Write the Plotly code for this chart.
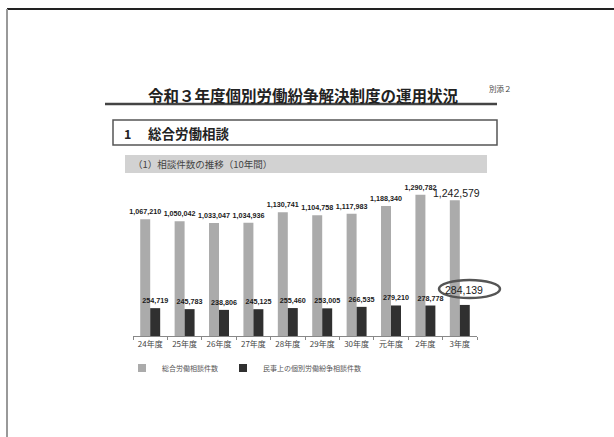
import plotly.graph_objects as go

# ---- data ----
categories = ["24年度", "25年度", "26年度", "27年度", "28年度",
              "29年度", "30年度", "元年度", "2年度", "3年度"]
total_consult = [1067210, 1050042, 1033047, 1034936, 1130741,
                 1104758, 1117983, 1188340, 1290782, 1242579]
civil_disputes = [254719, 245783, 238806, 245125, 255460,
                  253005, 266535, 279210, 278778, 284139]
series_names = ["総合労働相談件数", "民事上の個別労働紛争相談件数"]
series_colors = ["#ababab", "#303030"]

W, H = 614, 437
def px(x):
    return x / W
def py(y):
    return 1 - y / H

CJK = "Noto Sans CJK JP"
NUM = "Liberation Sans"

n = len(categories)
light_text = [f"<b>{v:,}</b>" for v in total_consult[:-1]] + [""]
dark_text = [f"<b>{v:,}</b>" for v in civil_disputes[:-1]] + [""]

fig = go.Figure()
fig.add_trace(go.Bar(
    x=categories, y=total_consult, name=series_names[0], showlegend=False,
    marker=dict(color=series_colors[0], line=dict(width=0)),
    text=light_text, textposition="outside", constraintext="none",
    outsidetextfont=dict(family=NUM, size=7.2, color="#1a1a1a"),
    cliponaxis=False,
))
fig.add_trace(go.Bar(
    x=categories, y=civil_disputes, name=series_names[1], showlegend=False,
    marker=dict(color=series_colors[1], line=dict(width=0)),
    text=dark_text, textposition="outside", constraintext="none",
    outsidetextfont=dict(family=NUM, size=7.2, color="#1a1a1a"),
    cliponaxis=False,
))
# legend entries with small square swatches
for name, col in zip(series_names, series_colors):
    fig.add_trace(go.Scatter(x=[None], y=[None], mode="markers", name=name,
                             marker=dict(symbol="square", size=8, color=col)))

# latest year values shown larger
fig.add_annotation(x=categories[-1], y=total_consult[-1], xref="x", yref="y",
                   text=f"{total_consult[-1]:,}", showarrow=False,
                   xshift=-3, yshift=7,
                   font=dict(family=NUM, size=10.5, color="#1a1a1a"))
fig.add_annotation(x=categories[-1], y=civil_disputes[-1], xref="x", yref="y",
                   text=f"{civil_disputes[-1]:,}", showarrow=False,
                   xshift=4, yshift=15,
                   font=dict(family=NUM, size=10.5, color="#1a1a1a"))

shapes = [
    # highlight ellipse around the latest value
    dict(type="circle", xref="paper", yref="paper", x0=px(439), x1=px(500), y0=py(298), y1=py(280),
         line=dict(color="#555555", width=2.5)),
    # page border
    dict(type="line", xref="paper", yref="paper", x0=px(7), x1=1, y0=py(9), y1=py(9),
         line=dict(color="#222222", width=2)),
    dict(type="line", xref="paper", yref="paper", x0=px(7), x1=px(7), y0=py(9), y1=0,
         line=dict(color="#999999", width=2)),
    # title underline
    dict(type="line", xref="paper", yref="paper", x0=px(105), x1=px(497), y0=py(104), y1=py(104),
         line=dict(color="#444444", width=2.5)),
    # section box
    dict(type="rect", xref="paper", yref="paper", x0=px(113), x1=px(497), y0=py(120), y1=py(145),
         line=dict(color="#555555", width=1.5), fillcolor="white"),
    # sub-header band
    dict(type="rect", xref="paper", yref="paper", x0=px(125), x1=px(487), y0=py(155), y1=py(173),
         line=dict(width=0), fillcolor="#d2d2d2", layer="below"),
]
for s in shapes:
    fig.add_shape(**s)

annots = [
    dict(x=px(303), y=py(95), text="<b>令和３年度個別労働紛争解決制度の運用状況</b>",
         font=dict(family=CJK, size=15.5, color="#222222"), xanchor="center", yanchor="middle"),
    dict(x=px(487), y=py(88), text="別添２",
         font=dict(family=CJK, size=7.5, color="#444444"), xanchor="left", yanchor="middle"),
    dict(x=px(122), y=py(133), text="<b>1</b>",
         font=dict(family=CJK, size=12.5, color="#222222"), xanchor="left", yanchor="middle"),
    dict(x=px(146), y=py(133), text="<b>総合労働相談</b>",
         font=dict(family=CJK, size=13.5, color="#222222"), xanchor="left", yanchor="middle"),
    dict(x=px(131), y=py(164), text="（1）相談件数の推移（10年間）",
         font=dict(family=CJK, size=9.5, color="#444444"), xanchor="left", yanchor="middle"),
]
for a in annots:
    fig.add_annotation(xref="paper", yref="paper", showarrow=False, **a)

fig.update_layout(
    width=W, height=H,
    margin=dict(l=0, r=0, t=0, b=0),
    paper_bgcolor="white", plot_bgcolor="white",
    barmode="group", bargap=0.42, bargroupgap=0,
    showlegend=True,
    legend=dict(orientation="h", x=px(122), xanchor="left", y=py(368), yanchor="middle",
                font=dict(family=CJK, size=7, color="#555555"),
                bgcolor="rgba(0,0,0,0)", itemwidth=30, tracegroupgap=0),
    xaxis=dict(domain=[px(133), px(477)], range=[-0.5, n - 0.5], autorange=False,
               showline=True, linecolor="#888888", linewidth=1,
               ticks="outside", tickson="boundaries", ticklen=3, tickcolor="#888888",
               tickangle=0,
               tickfont=dict(family=CJK, size=8, color="#444444"), showgrid=False),
    yaxis=dict(domain=[py(336), py(172)], range=[0, 1500000], visible=False, showgrid=False),
)

fig.write_html("out.html", config={"displayModeBar": False},
               post_script="document.body.style.margin='0';document.body.style.overflow='hidden';")
